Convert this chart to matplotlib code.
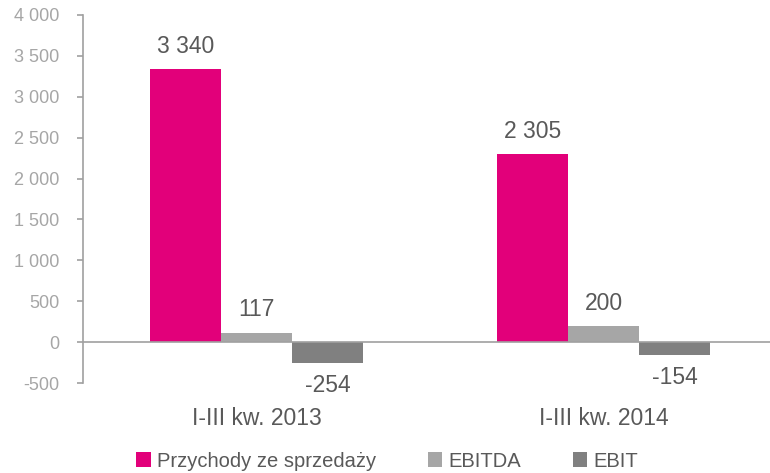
import matplotlib.pyplot as plt
import numpy as np
from matplotlib.ticker import FuncFormatter, MultipleLocator

plt.rcParams['font.family'] = ['Liberation Sans', 'DejaVu Sans']

# dane
okresy = ["I-III kw. 2013", "I-III kw. 2014"]
serie = ["Przychody ze sprzedaży", "EBITDA", "EBIT"]
przychody = [3340, 2305]
ebitda = [117, 200]
ebit = [-254, -154]
kolory = ["#E2007A", "#A6A6A6", "#808080"]

def fmt(v):
    return f"{int(v):,}".replace(",", " ")

fig = plt.figure(figsize=(7.7, 4.73), dpi=100)
ax = fig.add_axes([83 / 770, 90 / 473, (770 - 83) / 770, 368 / 473])

x = np.arange(len(okresy)) + 0.5
w = 0.205
for i, (nazwa, vals, c) in enumerate(zip(serie, [przychody, ebitda, ebit], kolory)):
    bars = ax.bar(x + (i - 1) * w, vals, w, color=c, label=nazwa, zorder=2)
    ax.bar_label(bars, labels=[fmt(v) for v in vals], padding=8,
                 fontsize=16.5, color="#595959")

ax.set_xlim(0, 1.98)
ax.set_ylim(-500, 4000)
ax.yaxis.set_major_locator(MultipleLocator(500))
ax.yaxis.set_major_formatter(FuncFormatter(lambda v, p: fmt(v)))
ax.axhline(0, color="#A0A0A0", lw=1.2, zorder=3)

for s in ["top", "right", "bottom"]:
    ax.spines[s].set_visible(False)
ax.spines["left"].set_color("#A0A0A0")
ax.spines["left"].set_linewidth(1.2)
ax.tick_params(axis="y", colors="#A0A0A0", labelsize=13, length=4, width=1.2,
               labelcolor="#A6A6A6", pad=13)
ax.set_xticks(x)
ax.set_xticklabels(okresy, fontsize=16.5, color="#595959")
ax.tick_params(axis="x", length=0, pad=17)

fig.legend(loc="center", bbox_to_anchor=(0.503, 12 / 473), ncol=3, frameon=False,
           fontsize=14.5, labelcolor="#595959", handlelength=0.7, handleheight=0.7,
           handletextpad=0.3, columnspacing=2.6)

fig.savefig("out.png", dpi=100)
